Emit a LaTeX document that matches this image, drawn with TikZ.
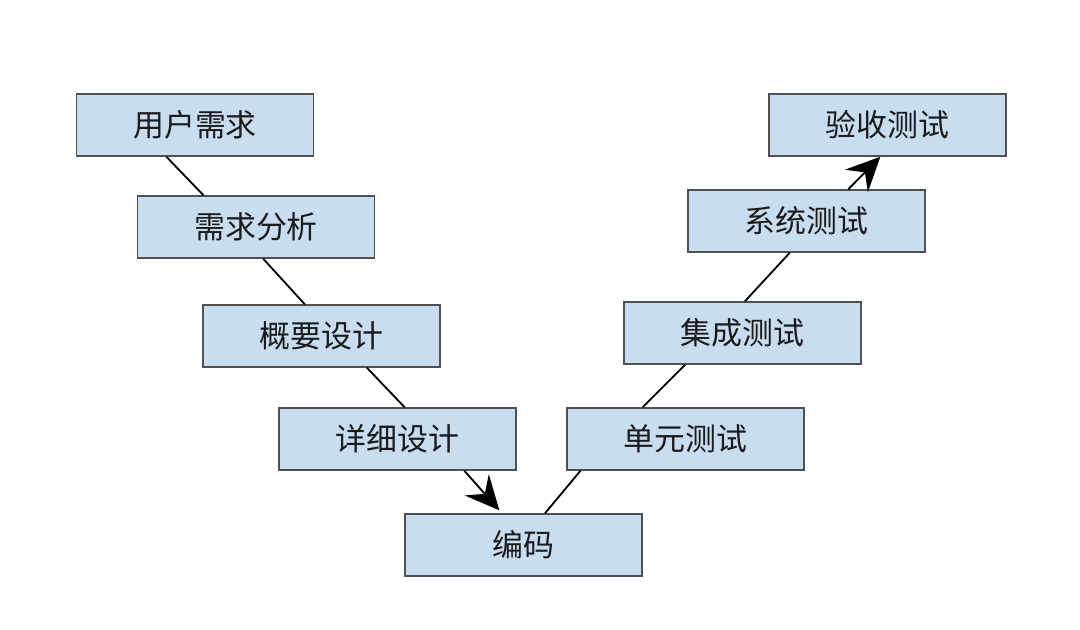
\documentclass[tikz,border=0pt]{standalone}
\usepackage{fontspec}
\setmainfont{Noto Sans CJK SC}
\usetikzlibrary{arrows.meta,calc}
\definecolor{boxfill}{HTML}{C9DDF1}
\definecolor{boxline}{HTML}{505050}
\definecolor{ink}{HTML}{1A1A1A}
\tikzset{
  stage/.style={draw=boxline,line width=1pt,fill=boxfill,minimum width=5.93cm,minimum height=1.55cm,inner sep=0pt,font=\fontsize{22}{22}\selectfont,text=ink},
  link/.style={draw=black,line width=1.3pt},
  flow/.style={link,-{Stealth[length=0.85cm,width=0.8cm,inset=0.3cm]}}
}

\begin{document}
\begin{tikzpicture}[x=0.025cm,y=-0.025cm]
\useasboundingbox (0,0) rectangle (1080,630);
% left leg of the V, then the right leg
\foreach \n/\x/\y/\t in {req/195/125/用户需求,ana/256/227/需求分析,hld/321.5/336/概要设计,dd/397.5/439/详细设计,code/523.5/545/编码,ut/685.5/439/单元测试,it/742.5/333/集成测试,st/806.5/221/系统测试,uat/887.5/125/验收测试}{
  \node[stage] (\n) at (\x,\y) {\t};
}
\foreach \u/\p/\l/\q in {req/0.38/ana/0.28,ana/0.53/hld/0.43,hld/0.69/dd/0.53,ut/0.06/code/0.59,it/0.26/ut/0.32,st/0.43/it/0.51}{
  \draw[link] ($(\u.south west)!\p!(\u.south east)$) -- ($(\l.north west)!\q!(\l.north east)$);
}
\draw[flow,shorten >=0.1cm] ($(dd.south west)!0.78!(dd.south east)$) -- ($(code.north west)!0.41!(code.north east)$);
\draw[flow] ($(st.north west)!0.675!(st.north east)$) -- ($(uat.south west)!0.47!(uat.south east)$);
\end{tikzpicture}
\end{document}
